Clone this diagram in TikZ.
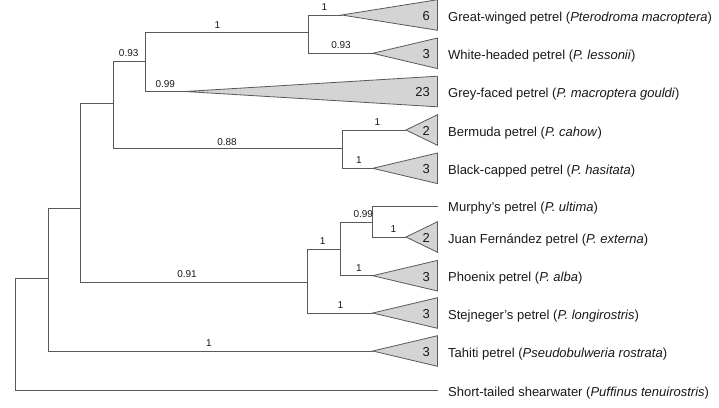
\documentclass[tikz,border=0pt]{standalone}
\usepackage{fontspec}
\setmainfont{Liberation Sans}
\usetikzlibrary{calc}
\begin{document}
\begin{tikzpicture}[x=1pt,y=-1pt,
  branch/.style={draw=black!65, line width=0.8pt},
  clade/.style={draw=black!65, fill=black!17, line width=0.8pt, line join=miter},
  taxon/.style={anchor=west, inner sep=0pt, font=\fontsize{13}{15}\selectfont, text=black!90},
  count/.style={anchor=east, inner sep=0pt, font=\fontsize{13}{15}\selectfont, text=black!90},
  support/.style={anchor=south, inner sep=0pt, font=\fontsize{10}{12}\selectfont, text=black!90}]
\useasboundingbox (0,0) rectangle (719,407);
\coordinate (xR) at (437.5,0);
% internal nodes
\coordinate (R) at (15.7,278.3);
\coordinate (A) at (48.3,278.3);
\coordinate (B) at (80,208.3);
\coordinate (C) at (113.3,103.3);
\coordinate (E) at (145.7,61.7);
\coordinate (G) at (308.3,32.7);
\coordinate (F) at (342.7,148.3);
\coordinate (D) at (307.3,282.3);
\coordinate (H) at (340,249.3);
\coordinate (I) at (372.7,222);
% tips
\coordinate (tGW) at (341.7,15);
\coordinate (tWH) at (372.7,53.3);
\coordinate (tGF) at (185,91.5);
\coordinate (tBE) at (406,130);
\coordinate (tBC) at (372.7,168.3);
\coordinate (tMU) at (437.5,206);
\coordinate (tJF) at (406,237);
\coordinate (tPH) at (372.7,275.7);
\coordinate (tST) at (372.7,313);
\coordinate (tTA) at (372.7,351);
\coordinate (tSH) at (437.5,390);
% branches
\draw[branch] (R) |- (A);
\draw[branch] (R) |- (tSH);
\draw[branch] (A) |- (B);
\draw[branch] (A) |- (tTA);
\draw[branch] (B) |- (C);
\draw[branch] (B) |- (D);
\draw[branch] (C) |- (E);
\draw[branch] (C) |- (F);
\draw[branch] (E) |- (G);
\draw[branch] (E) |- (tGF);
\draw[branch] (G) |- (tGW);
\draw[branch] (G) |- (tWH);
\draw[branch] (F) |- (tBE);
\draw[branch] (F) |- (tBC);
\draw[branch] (D) |- (H);
\draw[branch] (D) |- (tST);
\draw[branch] (H) |- (I);
\draw[branch] (H) |- (tPH);
\draw[branch] (I) |- (tMU);
\draw[branch] (I) |- (tJF);
% collapsed clades
\foreach \t in {tGW,tWH,tGF,tBE,tBC,tJF,tPH,tST,tTA}{
  \draw[clade] (\t) -- ($(\t -| xR)+(0,-15.3)$) -- ($(\t -| xR)+(0,15.3)$) -- cycle;
}
% counts
\node[count] (cGW) at (430,16) {6};
\node[count] (cWH) at (430,54.3) {3};
\node[count] (cGF) at (430,92.5) {23};
\node[count] (cBE) at (430,131) {2};
\node[count] (cBC) at (430,169.3) {3};
\node[count] (cJF) at (430,238) {2};
\node[count] (cPH) at (430,276.7) {3};
\node[count] (cST) at (430,314) {3};
\node[count] (cTA) at (430,352) {3};
% taxon labels
\node[taxon] (lGW) at (448,18) {Great-winged petrel (\textit{Pterodroma macroptera})};
\node[taxon] (lWH) at (448,56.5) {White-headed petrel (\textit{P. lessonii})};
\node[taxon] (lGF) at (448,94.5) {Grey-faced petrel (\textit{P. macroptera gouldi})};
\node[taxon] (lBE) at (448,133) {Bermuda petrel (\textit{P. cahow})};
\node[taxon] (lBC) at (448,171.5) {Black-capped petrel (\textit{P. hasitata})};
\node[taxon] (lMU) at (448,208) {Murphy’s petrel (\textit{P. ultima})};
\node[taxon] (lJF) at (448,240) {Juan Fernández petrel (\textit{P. externa})};
\node[taxon] (lPH) at (448,278.5) {Phoenix petrel (\textit{P. alba})};
\node[taxon] (lST) at (448,316) {Stejneger’s petrel (\textit{P. longirostris})};
\node[taxon] (lTA) at (448,354) {Tahiti petrel (\textit{Pseudobulweria rostrata})};
\node[taxon] (lSH) at (448,393.5) {Short-tailed shearwater (\textit{Puffinus tenuirostris})};
% support values
\node[support] (s1) at (324.5,11) {1};
\node[support] (s2) at (341,49) {0.93};
\node[support] (s3) at (217.3,28.5) {1};
\node[support] (s4) at (128.7,57) {0.93};
\node[support] (s5) at (165.3,87.5) {0.99};
\node[support] (s6) at (227,145.5) {0.88};
\node[support] (s7) at (377.3,126) {1};
\node[support] (s8) at (359,164) {1};
\node[support] (s9) at (363.3,218) {0.99};
\node[support] (s10) at (393.3,233) {1};
\node[support] (s11) at (322.7,245) {1};
\node[support] (s12) at (359,271.5) {1};
\node[support] (s13) at (187,277.5) {0.91};
\node[support] (s14) at (340.5,309) {1};
\node[support] (s15) at (209,346.5) {1};
\end{tikzpicture}
\end{document}
